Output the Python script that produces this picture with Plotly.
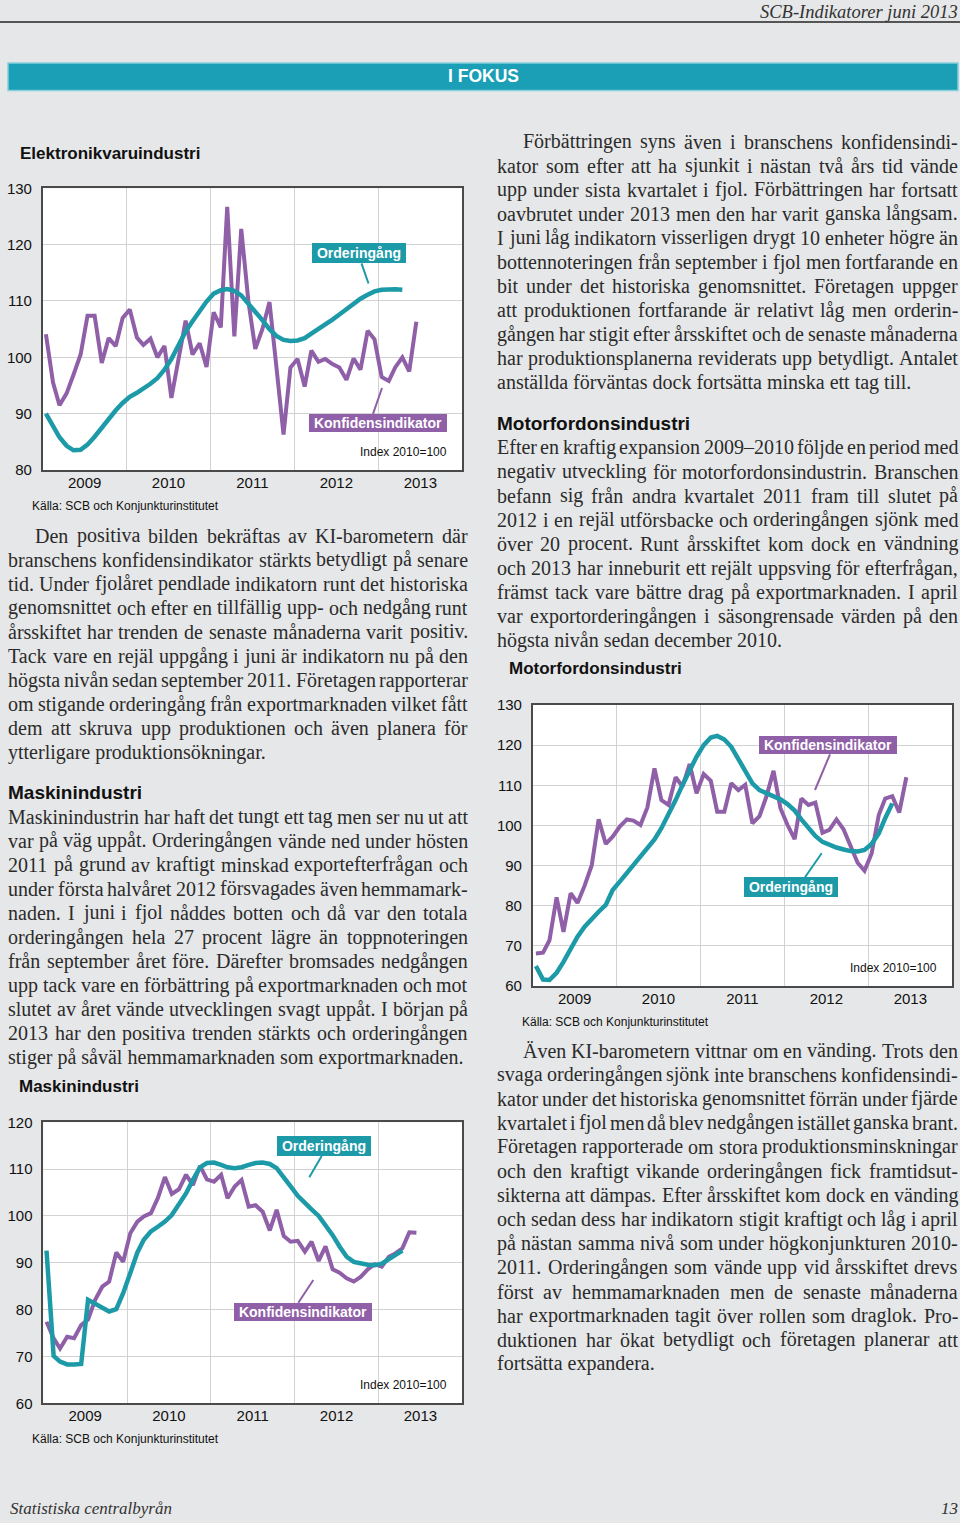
import plotly.graph_objects as go
import pandas as pd

W, H = 960, 1523
BG = "#e6e7e8"
PURPLE = "#8f5fa8"
TEAL = "#1d9aa8"
BANNER = "#1a9fb7"
GRID = "#d2d2d2"
FRAME = "#4a4a4a"
BODY = "#2b2b2b"
SERIF = "Liberation Serif"
SANS = "Liberation Sans"

# ---------------- data (monthly, Jan 2009 onward, Index 2010=100) ----------------
years = ["2009", "2010", "2011", "2012", "2013"]

elek_konf = [104.1, 95.5, 91.5, 93.6, 96.9, 100.5, 107.4, 107.4, 99.0, 103.4,
             102.0, 107.0, 108.5, 103.5, 102.2, 103.3, 100.0, 102.0, 92.8, 100.0,
             106.5, 100.5, 102.5, 98.3, 108.0, 105.3, 126.7, 103.7, 122.8, 110.0,
             101.5, 105.0, 109.8, 98.3, 86.3, 98.2, 99.7, 94.8, 101.2, 99.2,
             99.7, 98.8, 98.2, 96.0, 99.8, 97.8, 104.7, 103.2, 96.5, 95.8,
             98.2, 100.0, 97.5, 106.3]
elek_order = [90.0, 87.8, 85.8, 84.3, 83.5, 83.6, 84.5, 85.9, 87.5, 89.1,
              90.6, 91.9, 93.0, 93.7, 94.4, 95.3, 96.3, 97.8, 99.7, 102.3,
              104.6, 106.4, 108.3, 109.9, 111.3, 111.9, 112.1, 111.8, 111.0, 109.6,
              108.0, 106.6, 105.0, 103.8, 103.1, 102.9, 103.0, 103.4, 104.2, 105.0,
              105.8, 106.7, 107.6, 108.6, 109.5, 110.4, 111.1, 111.7, 112.0, 112.1,
              112.1, 112.0]

motor_konf = [68.1, 68.3, 71.4, 82.1, 73.5, 83.1, 80.7, 85.0, 90.1, 101.5,
              95.4, 97.2, 99.7, 101.5, 101.2, 100.1, 104.5, 114.2, 106.3, 105.1,
              112.0, 109.7, 115.3, 108.0, 112.8, 111.1, 103.4, 103.4, 110.5, 108.8,
              110.1, 100.5, 102.3, 107.2, 113.6, 104.3, 100.1, 96.6, 106.7, 105.1,
              105.7, 98.2, 98.9, 101.5, 99.0, 94.7, 90.7, 88.7, 93.0, 102.6,
              106.7, 107.3, 103.2, 112.0]
motor_order = [65.0, 61.6, 61.5, 63.3, 66.0, 69.4, 72.3, 74.8, 76.8, 78.5,
               80.2, 83.9, 86.0, 88.1, 90.1, 92.2, 94.3, 96.5, 99.3, 102.6,
               106.3, 110.1, 113.8, 117.1, 120.0, 121.9, 122.3, 121.4, 119.6, 116.7,
               113.4, 110.5, 108.8, 108.0, 107.3, 106.5, 105.3, 103.7, 101.5, 99.3,
               97.4, 95.9, 95.1, 94.5, 94.0, 93.6, 93.5, 93.9, 95.4, 98.0,
               101.8, 105.5]

mask_konf = [77.4, 73.9, 71.7, 74.2, 73.9, 76.7, 77.9, 82.1, 84.9, 86.0,
             92.2, 90.2, 96.3, 98.8, 99.9, 100.6, 103.8, 108.3, 104.7, 105.7,
             108.8, 106.6, 110.7, 107.8, 107.3, 108.8, 103.8, 106.3, 107.7, 102.0,
             102.3, 100.9, 96.9, 101.3, 95.7, 94.5, 94.7, 92.4, 94.5, 90.4,
             93.5, 88.6, 87.9, 86.7, 86.0, 87.0, 88.6, 89.7, 89.2, 91.3,
             92.0, 93.1, 96.5, 96.4]
mask_order = [92.6, 70.1, 68.9, 68.3, 68.3, 68.4, 82.1, 81.2, 80.3, 79.6,
              80.1, 83.5, 87.8, 92.2, 94.9, 96.7, 97.7, 98.8, 100.2, 102.3,
              104.8, 107.7, 110.4, 111.3, 111.4, 110.9, 110.4, 110.2, 110.4, 110.9,
              111.3, 111.4, 111.1, 110.2, 108.4, 106.3, 104.3, 102.7, 101.4, 100.0,
              98.1, 95.9, 93.5, 91.3, 90.2, 89.8, 89.6, 89.5, 89.8, 90.8,
              91.7, 92.6]

months = pd.date_range(f"{years[0]}-01-01", periods=60, freq="MS") + pd.Timedelta(days=14)

# ---------------- text ----------------
para_elek = [
    "Den positiva bilden bekräftas av KI-barometern där",
    "branschens konfidensindikator stärkts betydligt på senare",
    "tid. Under fjolåret pendlade indikatorn runt det historiska",
    "genomsnittet och efter en tillfällig upp- och nedgång runt",
    "årsskiftet har trenden de senaste månaderna varit positiv.",
    "Tack vare en rejäl uppgång i juni är indikatorn nu på den",
    "högsta nivån sedan september 2011. Företagen rapporterar",
    "om stigande orderingång från exportmarknaden vilket fått",
    "dem att skruva upp produktionen och även planera för",
    "ytterligare produktionsökningar.",
]
para_mask = [
    "Maskinindustrin har haft det tungt ett tag men ser nu ut att",
    "var på väg uppåt. Orderingången vände ned under hösten",
    "2011 på grund av kraftigt minskad exportefterfrågan och",
    "under första halvåret 2012 försvagades även hemmamark-",
    "naden. I juni i fjol nåddes botten och då var den totala",
    "orderingången hela 27 procent lägre än toppnoteringen",
    "från september året före. Därefter bromsades nedgången",
    "upp tack vare en förbättring på exportmarknaden och mot",
    "slutet av året vände utvecklingen svagt uppåt. I början på",
    "2013 har den positiva trenden stärkts och orderingången",
    "stiger på såväl hemmamarknaden som exportmarknaden.",
]
para_top = [
    "Förbättringen syns även i branschens konfidensindi-",
    "kator som efter att ha sjunkit i nästan två års tid vände",
    "upp under sista kvartalet i fjol. Förbättringen har fortsatt",
    "oavbrutet under 2013 men den har varit ganska långsam.",
    "I juni låg indikatorn visserligen drygt 10 enheter högre än",
    "bottennoteringen från september i fjol men fortfarande en",
    "bit under det historiska genomsnittet. Företagen uppger",
    "att produktionen fortfarande är relativt låg men orderin-",
    "gången har stigit efter årsskiftet och de senaste månaderna",
    "har produktionsplanerna reviderats upp betydligt. Antalet",
    "anställda förväntas dock fortsätta minska ett tag till.",
]
para_motor = [
    "Efter en kraftig expansion 2009–2010 följde en period med",
    "negativ utveckling för motorfordonsindustrin. Branschen",
    "befann sig från andra kvartalet 2011 fram till slutet på",
    "2012 i en rejäl utförsbacke och orderingången sjönk med",
    "över 20 procent. Runt årsskiftet kom dock en vändning",
    "och 2013 har inneburit ett rejält uppsving för efterfrågan,",
    "främst tack vare bättre drag på exportmarknaden. I april",
    "var exportorderingången i säsongrensade värden på den",
    "högsta nivån sedan december 2010.",
]
para_motor2 = [
    "Även KI-barometern vittnar om en vänding. Trots den",
    "svaga orderingången sjönk inte branschens konfidensindi-",
    "kator under det historiska genomsnittet förrän under fjärde",
    "kvartalet i fjol men då blev nedgången istället ganska brant.",
    "Företagen rapporterade om stora produktionsminskningar",
    "och den kraftigt vikande orderingången fick framtidsut-",
    "sikterna att dämpas. Efter årsskiftet kom dock en vänding",
    "och sedan dess har indikatorn stigit kraftigt och låg i april",
    "på nästan samma nivå som under högkonjunkturen 2010-",
    "2011. Orderingången som vände upp vid årsskiftet drevs",
    "först av hemmamarknaden men de senaste månaderna",
    "har exportmarknaden tagit över rollen som draglok. Pro-",
    "duktionen har ökat betydligt och företagen planerar att",
    "fortsätta expandera.",
]

# ---------------- helpers ----------------
def px(x):
    return x / W


def py(y):
    return 1 - y / H


annotations = []
shapes = []


def txt(s, x, y, size, family=SANS, color="#111111", xanchor="left", weight="normal", style="normal"):
    annotations.append(dict(text=s, x=px(x), y=py(y), xref="paper", yref="paper",
                            xanchor=xanchor, yanchor="middle", showarrow=False,
                            borderpad=0, borderwidth=0,
                            font=dict(family=family, size=size, color=color,
                                      weight=weight, style=style)))


# Times / Liberation Serif advance widths (1/1000 em)
TW = dict(zip("abcdefghijklmnopqrstuvwxyz",
              [444, 500, 444, 500, 444, 333, 500, 500, 278, 278, 500, 278, 778,
               500, 500, 500, 500, 333, 389, 278, 500, 500, 722, 500, 500, 444]))
TW.update(dict(zip("ABCDEFGHIJKLMNOPQRSTUVWXYZ",
                   [722, 667, 667, 722, 611, 556, 722, 722, 333, 389, 722, 611, 889,
                    722, 722, 556, 722, 667, 556, 611, 722, 722, 944, 722, 722, 611])))
TW.update({"å": 444, "ä": 444, "ö": 500, "Å": 722, "Ä": 722, "Ö": 722,
           ".": 250, ",": 250, "-": 333, "–": 500, ":": 278, " ": 250})
for d in "0123456789":
    TW[d] = 500

BODY_SIZE = 20
LH = 24.1


def tw(s):
    return sum(TW.get(c, 500) for c in s) / 1000 * BODY_SIZE


def paragraph(lines, x0, x1, y0, indent=0):
    for k, line in enumerate(lines):
        y = y0 + k * LH
        start = x0 + (indent if k == 0 else 0)
        words = line.split(" ")
        if k == len(lines) - 1 or len(words) == 1:
            txt(line, start, y, BODY_SIZE, SERIF, BODY)
            continue
        widths = [tw(w) for w in words]
        gap = (x1 - start - sum(widths)) / (len(words) - 1)
        x = start
        for j, (w, wd) in enumerate(zip(words, widths)):
            if j == len(words) - 1:
                txt(w, x1, y, BODY_SIZE, SERIF, BODY, xanchor="right")
            else:
                txt(w, x, y, BODY_SIZE, SERIF, BODY)
            x += wd + gap


def label_box(s, cx, cy, w, h, color):
    annotations.append(dict(text=s, x=px(cx), y=py(cy), xref="paper", yref="paper",
                            xanchor="center", yanchor="middle", showarrow=False,
                            width=w, height=h, bgcolor=color, borderpad=0, borderwidth=0,
                            align="center", valign="middle",
                            font=dict(family=SANS, size=14, color="white", weight="bold")))


def leader(x0, y0, x1, y1, color):
    shapes.append(dict(type="line", xref="paper", yref="paper",
                       x0=px(x0), y0=py(y0), x1=px(x1), y1=py(y1),
                       line=dict(color=color, width=2)))


# ---------------- figure ----------------
fig = go.Figure()

charts = [
    # (konf, order, box left, top, right, bottom, yrange)
    (elek_konf, elek_order, (42.7, 188.3, 462.3, 470.0), [80, 130]),
    (motor_konf, motor_order, (532.7, 705.0, 952.3, 986.0), [60, 130]),
    (mask_konf, mask_order, (43.3, 1122.3, 462.3, 1403.3), [60, 120]),
]

layout_axes = {}
for n, (konf, order, box, yr) in enumerate(charts, start=1):
    left, top, right, bottom = box
    fig.add_trace(go.Scatter(x=months[:len(konf)], y=konf, mode="lines",
                             line=dict(color=PURPLE, width=4), name="Konfidensindikator",
                             xaxis=f"x{n}", yaxis=f"y{n}", showlegend=False))
    fig.add_trace(go.Scatter(x=months[:len(order)], y=order, mode="lines",
                             line=dict(color=TEAL, width=4.5),
                             name="Orderingång",
                             xaxis=f"x{n}", yaxis=f"y{n}", showlegend=False))
    layout_axes[f"xaxis{n}"] = dict(
        domain=[px(left), px(right)], anchor=f"y{n}", type="date",
        range=[f"{years[0]}-01-01", f"{int(years[-1]) + 1}-01-01"],
        dtick="M12", tick0=f"{years[0]}-01-01", ticklabelmode="period", tickformat="%Y",
        showgrid=True, gridcolor=GRID, gridwidth=1, zeroline=False,
        showline=True, mirror=True, linecolor=FRAME, linewidth=1.5,
        ticks="", ticklabelstandoff=-2,
        tickfont=dict(family=SANS, size=15, color="#111111"), fixedrange=True)
    layout_axes[f"yaxis{n}"] = dict(
        domain=[py(bottom), py(top)], anchor=f"x{n}", range=yr, dtick=10, tick0=0,
        showgrid=True, gridcolor=GRID, gridwidth=1, zeroline=False,
        showline=True, mirror=True, linecolor=FRAME, linewidth=1.5,
        ticks="", ticklabelstandoff=6,
        tickfont=dict(family=SANS, size=15, color="#111111"), fixedrange=True)

# chart titles, sources, index notes
txt("Elektronikvaruindustri", 20, 153, 17, weight="bold")
txt("Motorfordonsindustri", 509, 669, 17, weight="bold")
txt("Maskinindustri", 19, 1086, 17, weight="bold")
for sx, sy in [(32, 506), (522, 1022), (32, 1439)]:
    txt("Källa: SCB och Konjunkturinstitutet", sx, sy, 12)
for ix, iy in [(447, 452), (937, 968), (447, 1385)]:
    txt("Index 2010=100", ix, iy, 12, xanchor="right")

# series labels with leader lines
label_box("Orderingång", 358.8, 253.3, 94, 20, TEAL)
leader(361.5, 263.3, 368.5, 283.5, TEAL)
label_box("Konfidensindikator", 378.3, 422.8, 138, 18, PURPLE)
leader(373.0, 413.8, 382.0, 388.0, PURPLE)

label_box("Konfidensindikator", 827.5, 745.3, 138, 18, PURPLE)
leader(830.0, 754.3, 815.0, 790.0, PURPLE)
label_box("Orderingång", 791.2, 887.3, 94, 20, TEAL)
leader(805.0, 877.3, 821.7, 853.3, TEAL)

label_box("Orderingång", 324.2, 1146.0, 94, 20, TEAL)
leader(321.7, 1156.0, 309.3, 1177.3, TEAL)
label_box("Konfidensindikator", 302.5, 1311.7, 138, 18, PURPLE)
leader(298.3, 1302.7, 313.3, 1280.0, PURPLE)

# body text
paragraph(para_elek, 8, 468, 535.5, indent=27)
txt("Maskinindustri", 8, 792, 19, weight="bold")
paragraph(para_mask, 8, 468, 816.5)
paragraph(para_top, 497, 958, 141.5, indent=26)
txt("Motorfordonsindustri", 497, 423, 19, weight="bold")
paragraph(para_motor, 497, 958, 447.5)
paragraph(para_motor2, 497, 958, 1050.5, indent=26)

# header, banner, footer
txt("SCB-Indikatorer juni 2013", 958, 12, 18.5, SERIF, "#333333", xanchor="right", style="italic")
shapes.append(dict(type="line", xref="paper", yref="paper", x0=0, x1=1, y0=py(22), y1=py(22),
                   line=dict(color="#555555", width=2)))
shapes.append(dict(type="rect", xref="paper", yref="paper", x0=px(8), x1=px(958),
                   y0=py(90.5), y1=py(63), fillcolor=BANNER, line=dict(color="#86cfdb", width=1.5)))
txt("I FOKUS", 483, 76.5, 17.5, SANS, "white", xanchor="center", weight="bold")
txt("Statistiska centralbyrån", 10, 1508, 17, SERIF, "#333333", style="italic")
txt("13", 958, 1508, 17, SERIF, "#333333", xanchor="right", style="italic")

fig.update_layout(width=W, height=H, autosize=False,
                  margin=dict(l=0, r=0, t=0, b=0, pad=0, autoexpand=False),
                  paper_bgcolor=BG, plot_bgcolor="white",
                  showlegend=False, annotations=annotations, shapes=shapes,
                  **layout_axes)

fig.write_html("out.html",
               post_script="document.body.style.margin='0';document.body.style.padding='0';"
                           "document.body.style.background='%s';" % BG,
               config={"displayModeBar": False})
